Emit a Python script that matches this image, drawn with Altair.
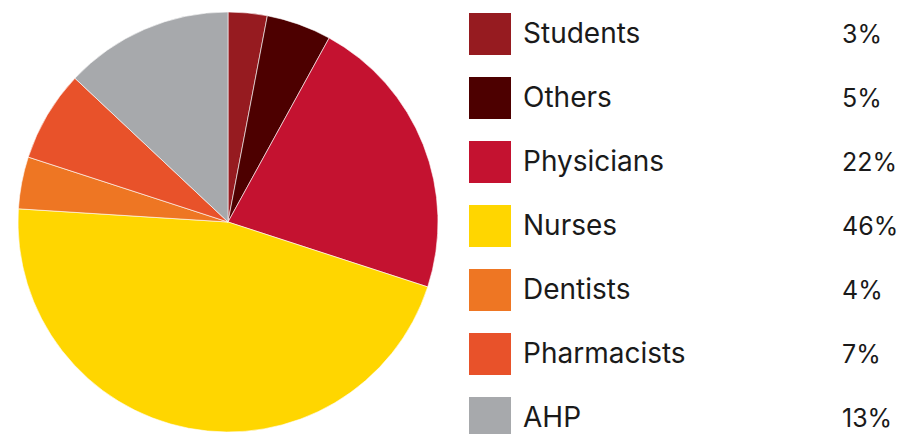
import altair as alt
import pandas as pd

categories = ["Students", "Others", "Physicians", "Nurses", "Dentists", "Pharmacists", "AHP"]
values = [3, 5, 22, 46, 4, 7, 13]
colors = ["#961B20", "#4D0000", "#C41230", "#FFD600", "#EE7623", "#E8522A", "#A7A9AC"]

df = pd.DataFrame({
    "category": categories,
    "value": values,
    "idx": list(range(len(categories))),
    "pct": [f"{v}%" for v in values],
})

color = alt.Color("category:N", scale=alt.Scale(domain=categories, range=colors), legend=None)
ypos = alt.Y("idx:Q", scale=alt.Scale(domain=[0, 6], range=[26, 410], zero=False, nice=False), axis=None)

base = alt.Chart(df)

pie = base.mark_arc(radius=210, stroke="white", strokeWidth=0.6).encode(
    theta=alt.Theta("value:Q", stack=True),
    color=color,
    order=alt.Order("idx:Q"),
    x=alt.value(220),
    y=alt.value(214),
)

squares = base.mark_square(size=1764, opacity=1, filled=True).encode(
    x=alt.value(482),
    y=ypos,
    color=color,
)

labels = base.mark_text(align="left", baseline="middle", fontSize=28, font="Inter", color="#1a1a1a", dy=1).encode(
    x=alt.value(515),
    y=ypos,
    text="category:N",
)

pcts = base.mark_text(align="left", baseline="middle", fontSize=25, font="Inter", color="#1a1a1a", dy=1).encode(
    x=alt.value(834),
    y=ypos,
    text="pct:N",
)

chart = alt.layer(pie, squares, labels, pcts).properties(
    width=892, height=426, padding=0, autosize="none"
).configure_view(stroke=None)

chart.save("out.html", embed_options={"renderer": "svg", "actions": False})
